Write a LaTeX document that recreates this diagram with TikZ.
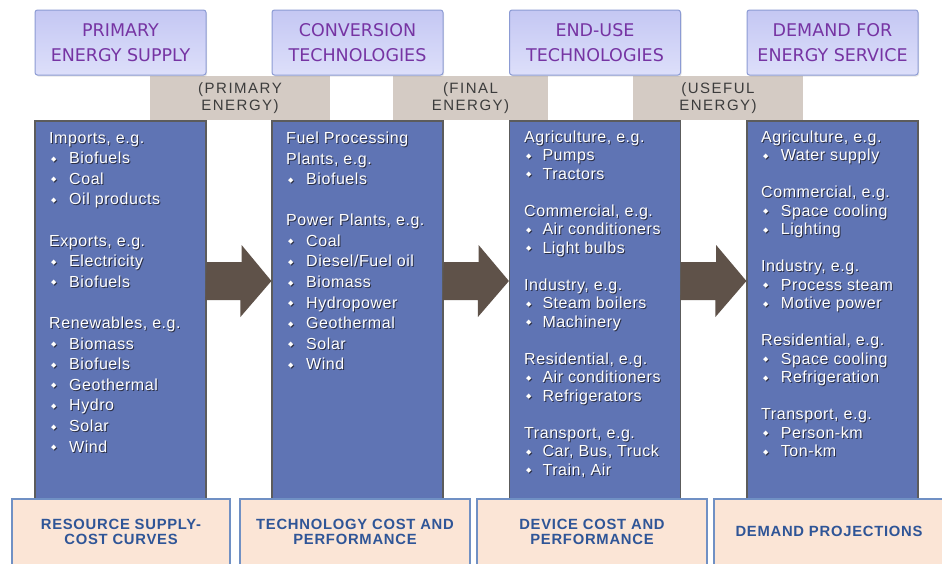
\documentclass[tikz,border=0pt]{standalone}
\usepackage{fontspec}
\setmainfont{Liberation Sans}
\newfontfamily\bodyfont[LetterSpace=3.5]{Liberation Sans}
\newfontfamily\tagfont[LetterSpace=10]{Liberation Sans}
\newfontfamily\basefont[LetterSpace=5]{Liberation Sans}
\newfontfamily\headfont{DejaVu Sans}
\newfontfamily\glyphfont{DejaVu Sans}
\usetikzlibrary{shadows}

\definecolor{hdrtop}{HTML}{C4C7F3}
\definecolor{hdrbot}{HTML}{DDDFFA}
\definecolor{hdrline}{HTML}{8C9BD4}
\definecolor{hdrtext}{HTML}{7634A3}
\definecolor{tagfill}{HTML}{D4CBC4}
\definecolor{tagtext}{HTML}{3C3C3C}
\definecolor{colfill}{HTML}{5F74B4}
\definecolor{colline}{HTML}{5C5C5C}
\definecolor{txtshadow}{HTML}{1E1E2A}
\definecolor{arrowfill}{HTML}{5F5249}
\definecolor{basefill}{HTML}{FBE5D6}
\definecolor{baseedge}{HTML}{7090C4}
\definecolor{basetext}{HTML}{2F5597}

% bullet item with a small diamond and a hanging indent
\newlength\itemind
\newcommand\itm[1]{\makebox[\itemind][l]{\hspace{1.8pt}\raisebox{2.4pt}{\glyphfont\fontsize{7}{7}\selectfont ◆}}#1}

% white column text with a dark drop shadow
% #1 name, #2 x, #3 top y, #4 item indent, #5 line spacing, #6 lines
\newcommand\coltext[6]{%
  \setlength\itemind{#4}%
  \node[coltxt, text=txtshadow, text opacity=0.8,
        font=\bodyfont\fontsize{16}{#5}\selectfont] (#1-shadow) at (#2+1,#3+1) {#6};
  \node[coltxt, text=white,
        font=\bodyfont\fontsize{16}{#5}\selectfont] (#1) at (#2,#3) {#6};
}

% block arrow from one column to the next
\newcommand\flowarrow[2]{%
  \fill[arrowfill] ([yshift=29pt]#1.east) ++(0,-19) -- ++(35,0) -- ++(0,-17)
    -- ([yshift=29pt]#2.west) -- ++(-31,36) -- ++(0,-17) -- ++(-35,0) -- cycle;
}

\tikzset{
  hdr/.style={minimum width=171pt, minimum height=65pt, inner sep=0pt,
    rounded corners=2.5pt, top color=hdrtop, bottom color=hdrbot,
    draw=hdrline, line width=1pt, text=hdrtext, align=center,
    font=\headfont\fontsize{17.5}{25}\selectfont,
    drop shadow={opacity=0.2, shadow xshift=1pt, shadow yshift=-1.5pt}},
  tag/.style={fill=tagfill, minimum height=44pt, inner sep=0pt,
    text=tagtext, align=center, font=\tagfont\fontsize{15}{17.7}\selectfont},
  col/.style={fill=colfill, draw=colline, line width=1.2pt,
    minimum width=171pt, minimum height=378pt, inner sep=0pt},
  coltxt/.style={anchor=north west, inner sep=0pt, align=left},
  basebox/.style={fill=basefill, draw=baseedge, line width=1.2pt,
    minimum width=230pt, minimum height=65.4pt, inner sep=0pt,
    text=basetext, align=center,
    font=\basefont\bfseries\fontsize{14.8}{14.7}\selectfont}
}

\begin{document}
\begin{tikzpicture}[x=1pt, y=-1pt]
\fill[white] (0,0) rectangle (942,563);
\useasboundingbox (0,0) rectangle (942,563);

% energy-form labels between the stages
\node[tag, minimum width=180pt] (t1) at (240,98)   {(PRIMARY\\ENERGY)};
\node[tag, minimum width=155pt] (t2) at (470.5,98) {(FINAL\\ENERGY)};
\node[tag, minimum width=170pt] (t3) at (718,98)   {(USEFUL\\ENERGY)};

% stage headers
\node[hdr] (h1) at (120.5,42.5) {PRIMARY\\ENERGY SUPPLY};
\node[hdr] (h2) at (357.5,42.5) {CONVERSION\\TECHNOLOGIES};
\node[hdr] (h3) at (595,42.5)   {END-USE\\TECHNOLOGIES};
\node[hdr] (h4) at (832.5,42.5) {DEMAND FOR\\ENERGY SERVICE};

% stage columns
\node[col] (c1) at (120.5,310) {};
\node[col] (c2) at (357.5,310) {};
\node[col] (c3) at (595,310) {};
\node[col] (c4) at (832.5,310) {};

\flowarrow{c1}{c2}
\flowarrow{c2}{c3}
\flowarrow{c3}{c4}

% column contents
\coltext{l1}{49}{131.8}{20pt}{20.6}{%
Imports, e.g.\\
\itm{Biofuels}\\
\itm{Coal}\\
\itm{Oil products}\\[20.6pt]
Exports, e.g.\\
\itm{Electricity}\\
\itm{Biofuels}\\[20.6pt]
Renewables, e.g.\\
\itm{Biomass}\\
\itm{Biofuels}\\
\itm{Geothermal}\\
\itm{Hydro}\\
\itm{Solar}\\
\itm{Wind}}

\coltext{l2}{286}{131.8}{20pt}{20.55}{%
Fuel Processing\\
Plants, e.g.\\
\itm{Biofuels}\\[20.55pt]
Power Plants, e.g.\\
\itm{Coal}\\
\itm{Diesel/Fuel oil}\\
\itm{Biomass}\\
\itm{Hydropower}\\
\itm{Geothermal}\\
\itm{Solar}\\
\itm{Wind}}

\coltext{l3}{524}{130.2}{18.3pt}{18.5}{%
Agriculture, e.g.\\
\itm{Pumps}\\
\itm{Tractors}\\[18.5pt]
Commercial, e.g.\\
\itm{Air conditioners}\\
\itm{Light bulbs}\\[18.5pt]
Industry, e.g.\\
\itm{Steam boilers}\\
\itm{Machinery}\\[18.5pt]
Residential, e.g.\\
\itm{Air conditioners}\\
\itm{Refrigerators}\\[18.5pt]
Transport, e.g.\\
\itm{Car, Bus, Truck}\\
\itm{Train, Air}}

\coltext{l4}{761}{130.2}{19.7pt}{18.5}{%
Agriculture, e.g.\\
\itm{Water supply}\\[18.5pt]
Commercial, e.g.\\
\itm{Space cooling}\\
\itm{Lighting}\\[18.5pt]
Industry, e.g.\\
\itm{Process steam}\\
\itm{Motive power}\\[18.5pt]
Residential, e.g.\\
\itm{Space cooling}\\
\itm{Refrigeration}\\[18.5pt]
Transport, e.g.\\
\itm{Person-km}\\
\itm{Ton-km}}

% data inputs under each stage
\node[basebox, minimum width=218pt] (b1) at (121,531.7) {RESOURCE SUPPLY-\\COST CURVES};
\node[basebox] (b2) at (355,531.7) {TECHNOLOGY COST AND\\PERFORMANCE};
\node[basebox] (b3) at (592,531.7) {DEVICE COST AND\\PERFORMANCE};
\node[basebox] (b4) at (829,531.7) {DEMAND PROJECTIONS};
\end{tikzpicture}
\end{document}
